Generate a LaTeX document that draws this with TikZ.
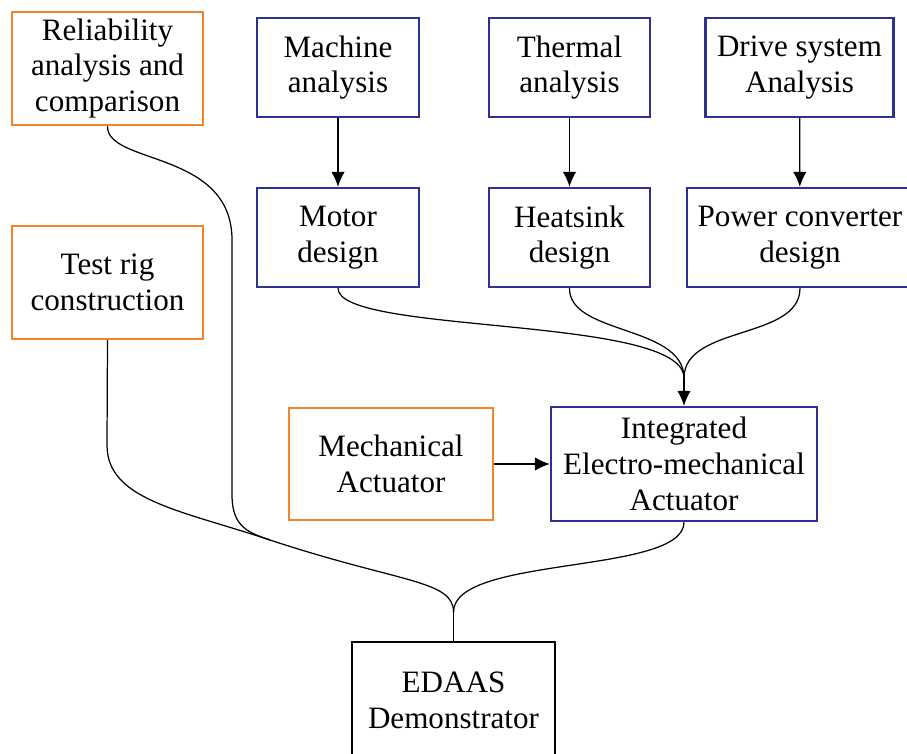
\documentclass[tikz,border=0pt]{standalone}
\usepackage{fontspec}
\setmainfont{Liberation Serif}
\usetikzlibrary{arrows.meta}

\definecolor{boxorange}{RGB}{242,133,44}
\definecolor{boxblue}{RGB}{46,49,146}

\begin{document}
\begin{tikzpicture}[x=0.02cm,y=-0.02cm,>={Latex[length=3mm,width=2.7mm]},
  box/.style={draw,line width=1.4pt,align=center,inner sep=0pt,
    font=\fontsize{17.7}{20.4}\selectfont},
  bluebox/.style={box,draw=boxblue,minimum height=1.98cm},
  orangebox/.style={box,draw=boxorange},
  link/.style={line width=0.7pt}]
  \useasboundingbox (0,0) rectangle (907,754);
  \clip (0,0) rectangle (907,754);

  % analysis row
  \node[bluebox,minimum width=3.24cm] (mach)  at (338,67.5)   {Machine\\analysis};
  \node[bluebox,minimum width=3.22cm] (therm) at (569.5,67.5) {Thermal\\analysis};
  \node[bluebox,minimum width=3.76cm] (drive) at (799.5,67.5) {Drive system\\Analysis};

  % design row
  \node[bluebox,minimum width=3.24cm] (motor) at (338,237.5)   {Motor\\design};
  \node[bluebox,minimum width=3.22cm] (heat)  at (569.5,237.5) {Heatsink\\design};
  \node[bluebox,minimum width=4.52cm] (power) at (800,237.5)   {Power converter\\design};

  % side tasks
  \node[orangebox,minimum width=3.82cm,minimum height=2.26cm] (rel)  at (107.5,68.5)
    {Reliability\\analysis and\\comparison};
  \node[orangebox,minimum width=3.82cm,minimum height=2.26cm] (test) at (107.5,282.5)
    {Test rig\\construction};
  \node[orangebox,minimum width=4.08cm,minimum height=2.24cm] (mech) at (391,464)
    {Mechanical\\Actuator};

  \node[bluebox,minimum width=5.32cm,minimum height=2.28cm] (integ) at (684,464)
    {Integrated\\Electro-mechanical\\Actuator};
  \node[box,draw=black,minimum width=4.06cm,minimum height=2.32cm] (edaas) at (453.5,700)
    {EDAAS\\Demonstrator};

  \coordinate (joinA) at (684,378);
  \coordinate (joinB) at (453.5,612);
  \coordinate (joinC) at (270,540);

  % analysis -> design
  \draw[link,->] (mach) -- (motor);
  \draw[link,->] (therm) -- (heat);
  \draw[link,->] (drive) -- (power);

  % designs merge into the actuator
  \draw[link] (motor.south) .. controls (338,335) and (684,315) .. (joinA);
  \draw[link] (heat.south) .. controls (569,335) and (684,325) .. (joinA);
  \draw[link] (power.south) .. controls (800,340) and (684,325) .. (joinA);
  \draw[link,->] (joinA) -- (integ.north);
  \draw[link,->] (mech) -- (integ);

  % everything ends at the demonstrator
  \draw[link] (rel.south) .. controls (107,165) and (232,150) .. (232,240)
    -- (232,495) .. controls (232,528) and (250,533) .. (joinC);
  \draw[link] (test.south) -- (107,445) .. controls (107,500) and (180,510) .. (joinC)
    .. controls (400,583) and (453.5,580) .. (joinB);
  \draw[link] (integ.south) .. controls (684,575) and (453.5,555) .. (joinB);
  \draw[link] (joinB) -- (edaas.north);
\end{tikzpicture}
\end{document}
